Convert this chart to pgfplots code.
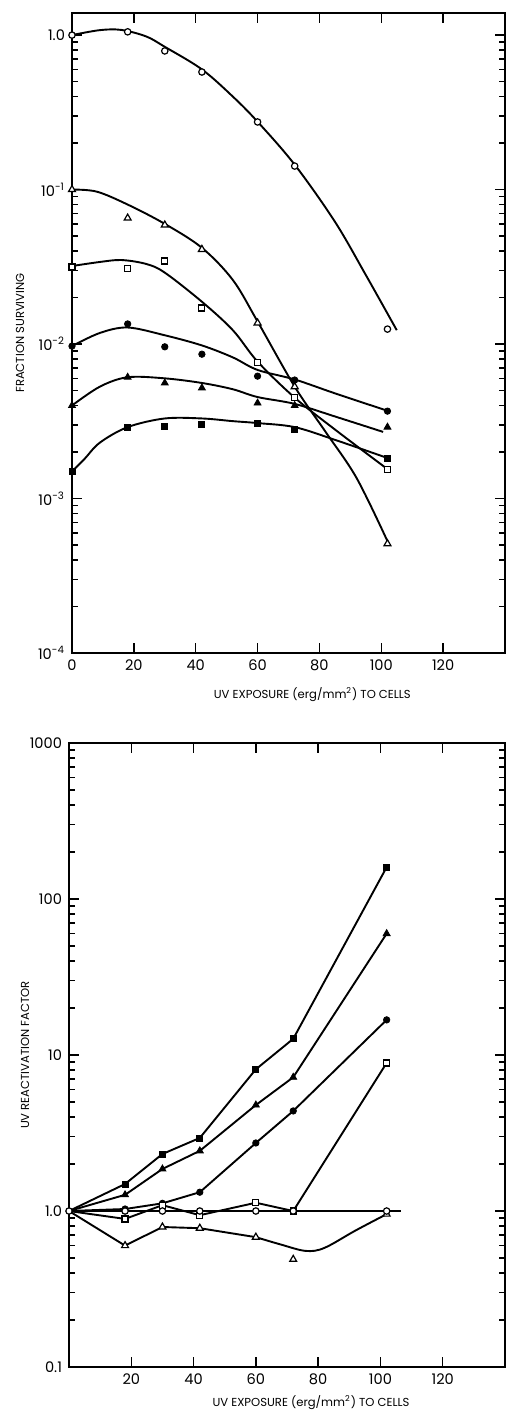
\documentclass[border=0pt]{standalone}
\usepackage{fontspec}
\setmainfont{Poppins}
\usepackage{pgfplots}
\pgfplotsset{compat=1.18}

\pgfplotsset{
  uvpanel/.style={
    scale only axis,
    xmin=0, xmax=140,
    clip=false,
    axis line style={line width=0.9pt},
    every tick/.style={black, line width=0.7pt},
    major tick length=5pt,
    minor tick length=3pt,
    tick label style={font=\fontsize{7.3}{8}\selectfont},
    label style={font=\fontsize{5.8}{7}\selectfont},
    /pgf/number format/assume math mode=true,
  },
  uvfit/.style={black, line width=0.95pt, smooth, tension=0.55, mark=none},
  uvseg/.style={black, line width=0.95pt, sharp plot, mark=none},
  mOC/.style={only marks, mark=*, mark size=1.6pt, mark options={fill=white, draw=black, line width=0.6pt}},
  mFC/.style={only marks, mark=*, mark size=1.6pt, mark options={fill=black, draw=black}},
  mOS/.style={only marks, mark=square*, mark size=1.5pt, mark options={fill=white, draw=black, line width=0.6pt}},
  mFS/.style={only marks, mark=square*, mark size=1.5pt, mark options={fill=black, draw=black}},
  mOT/.style={only marks, mark=triangle*, mark size=2pt, mark options={fill=white, draw=black, line width=0.6pt}},
  mFT/.style={only marks, mark=triangle*, mark size=2pt, mark options={fill=black, draw=black}},
}

\begin{document}
\begin{tikzpicture}
\useasboundingbox (0,0) rectangle (252.5pt,-705pt);

% ---------- Survival after UV exposure ----------
\begin{semilogyaxis}[uvpanel,
  at={(36pt,-6.5pt)}, anchor=north west,
  width=216.5pt, height=320pt,
  ymin=1e-4, ymax=1.39,
  xtick={0,20,...,120},
  ytick={1e-4,1e-3,1e-2,1e-1,1},
  yticklabels={10\textsuperscript{-4},10\textsuperscript{-3},10\textsuperscript{-2},10\textsuperscript{-1},1.0},
  minor ytick={2e-4,3e-4,4e-4,5e-4,6e-4,7e-4,8e-4,9e-4,
               2e-3,3e-3,4e-3,5e-3,6e-3,7e-3,8e-3,9e-3,
               2e-2,3e-2,4e-2,5e-2,6e-2,7e-2,8e-2,9e-2,
               2e-1,3e-1,4e-1,5e-1,6e-1,7e-1,8e-1,9e-1},
  xlabel={UV EXPOSURE (erg/mm\textsuperscript{2}) TO CELLS},
  ylabel={FRACTION SURVIVING},
  xlabel style={at={([yshift=-21pt]axis description cs:0.555,0)}, anchor=center},
  ylabel style={at={([xshift=-26pt]axis description cs:0,0.5)}, anchor=center},
]
% fitted curves
\addplot[uvfit] coordinates {(0,1.0) (9,1.077) (16,1.08) (24,0.98) (30,0.84) (42,0.6) (52,0.4) (60,0.275) (72,0.145) (85,0.062) (95,0.028) (105,0.0123)};
\addplot[uvfit] coordinates {(0,0.1) (8,0.097) (18,0.08) (30,0.06) (42,0.042) (52,0.026) (60,0.014) (72,0.0053) (82,0.0027) (92,0.00136) (102,0.00053)};
\addplot[uvfit] coordinates {(0,0.032) (9,0.034) (16,0.035) (24,0.033) (30,0.029) (42,0.0188) (52,0.0123) (60,0.0077) (72,0.0045) (85,0.0028) (102,0.00155)};
\addplot[uvfit] coordinates {(0,0.0097) (9,0.0118) (18,0.0128) (30,0.0114) (42,0.0098) (52,0.0082) (60,0.0068) (72,0.0059) (85,0.0048) (102,0.0037)};
\addplot[uvfit] coordinates {(0,0.004) (9,0.0053) (18,0.0061) (30,0.006) (42,0.0056) (52,0.0051) (60,0.00454) (72,0.0041) (85,0.0034) (100.6,0.0027)};
\addplot[uvfit] coordinates {(0,0.0015) (4,0.0018) (9,0.0023) (18,0.0029) (30,0.0033) (42,0.0033) (52,0.00317) (60,0.00308) (72,0.0029) (85,0.0024) (102,0.00183)};
% measured points
\addplot[mOC] coordinates {(0,1.0) (18,1.05) (30,0.79) (42,0.577) (60,0.274) (72,0.142) (102,0.0125)};
\addplot[mOT] coordinates {(0,0.1) (18,0.0654) (30,0.059) (42,0.041) (60,0.0137) (72,0.0053) (102,0.00051)};
\addplot[mOS] coordinates {(0,0.0315) (18,0.031) (30,0.0345) (42,0.0171) (60,0.0076) (72,0.0045) (102,0.00155)};
\addplot[mFC] coordinates {(0,0.0097) (18,0.0135) (30,0.0096) (42,0.0086) (60,0.0062) (72,0.00585) (102,0.00368)};
\addplot[mFT] coordinates {(0,0.004) (18,0.0061) (30,0.0056) (42,0.0052) (60,0.00415) (72,0.004) (102,0.0029)};
\addplot[mFS] coordinates {(0,0.0015) (18,0.0029) (30,0.00295) (42,0.00303) (60,0.00308) (72,0.00282) (102,0.00183)};
\end{semilogyaxis}

% ---------- Reactivation factor ----------
\begin{semilogyaxis}[uvpanel,
  at={(34.5pt,-371.5pt)}, anchor=north west,
  width=218pt, height=312pt,
  ymin=0.1, ymax=1000,
  xtick={20,40,...,120},
  ytick={0.1,1,10,100,1000},
  yticklabels={0.1,1.0,10,100,1000},
  minor ytick={0.2,0.3,0.4,0.5,0.6,0.7,0.8,0.9,
               2,3,4,5,6,7,8,9,
               20,30,40,50,60,70,80,90,
               200,300,400,500,600,700,800,900},
  xlabel={UV EXPOSURE (erg/mm\textsuperscript{2}) TO CELLS},
  ylabel={UV REACTIVATION FACTOR},
  xlabel style={at={([yshift=-18pt]axis description cs:0.555,0)}, anchor=center},
  ylabel style={at={([xshift=-22pt]axis description cs:0,0.5)}, anchor=center},
]
% connecting lines
\addplot[uvseg] coordinates {(0,1) (18,1.49) (30,2.32) (42,2.94) (60,8.1) (72,12.7) (102,160)};
\addplot[uvseg] coordinates {(0,1) (18,1.27) (30,1.86) (42,2.43) (60,4.78) (72,7.2) (102,60)};
\addplot[uvseg] coordinates {(0,1) (18,1.03) (30,1.12) (42,1.32) (60,2.73) (72,4.38) (102,16.8)};
\addplot[uvseg] coordinates {(0,1) (18,0.89) (30,1.09) (42,0.94) (60,1.13) (72,1.0) (102,8.9)};
\addplot[uvseg] coordinates {(0,1) (18,0.6) (30,0.79) (42,0.776) (60,0.68)};
\addplot[uvfit] coordinates {(60,0.68) (68,0.61) (76,0.555) (82,0.58) (92,0.75) (102,0.955)};
\addplot[uvseg] coordinates {(0,1) (106.5,1)};
% measured points
\addplot[mFS] coordinates {(18,1.49) (30,2.32) (42,2.94) (60,8.1) (72,12.7) (102,160)};
\addplot[mFT] coordinates {(18,1.27) (30,1.86) (42,2.43) (60,4.78) (72,7.2) (102,60)};
\addplot[mFC] coordinates {(18,1.03) (30,1.12) (42,1.32) (60,2.73) (72,4.38) (102,16.8)};
\addplot[mOS] coordinates {(18,0.89) (30,1.09) (42,0.94) (60,1.13) (72,1.0) (102,8.9)};
\addplot[mOT] coordinates {(18,0.6) (30,0.79) (42,0.776) (60,0.68) (72,0.49) (102,0.955)};
\addplot[mOC] coordinates {(0,1) (18,1) (30,1) (42,1) (60,1) (72,1) (102,1)};
\end{semilogyaxis}
\end{tikzpicture}
\end{document}
